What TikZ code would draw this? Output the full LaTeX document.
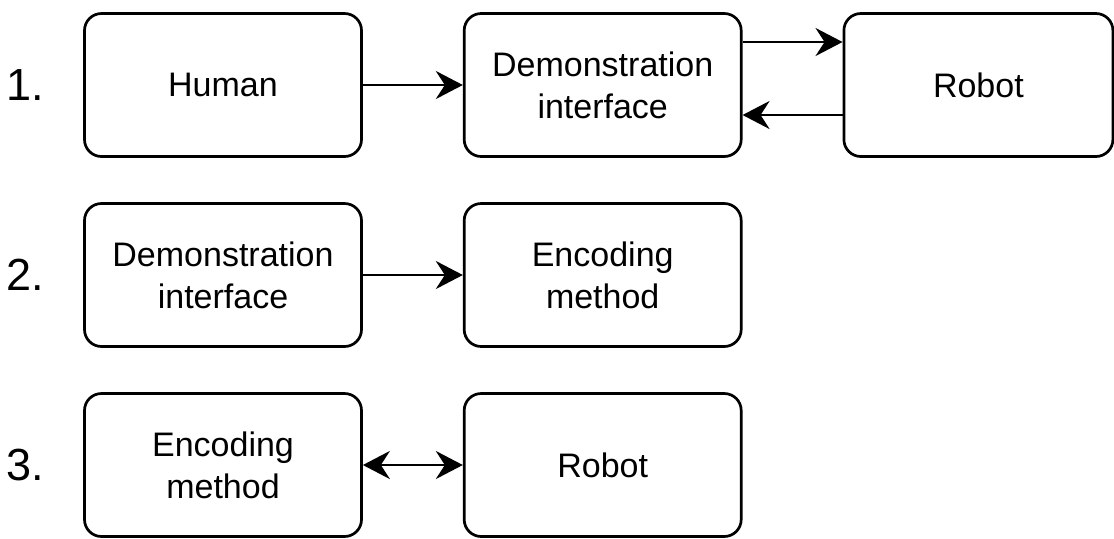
\documentclass[tikz,border=0pt]{standalone}
\usepackage{fontspec}
\setmainfont{Liberation Sans}
\usetikzlibrary{positioning,arrows.meta}

\begin{document}
\begin{tikzpicture}[>={Stealth[length=13.5pt,width=14pt,inset=4.5pt]},
  stagebox/.style={draw,line width=1.35pt,rounded corners=8.5pt,
    minimum width=138.5pt,minimum height=71.5pt,inner sep=0pt,
    align=center,font=\fontsize{17}{21}\selectfont},
  stagenum/.style={inner sep=0pt,font=\fontsize{22.5}{26}\selectfont},
  link/.style={line width=1.35pt,->},
  node distance=22.15pt and 50pt]
\useasboundingbox (0,0) rectangle (557pt,-269pt);
% 1. human demonstrates through the interface
\node[stagebox] (human) at (111.5pt,-42.5pt) {Human};
\node[stagebox,right=of human] (demoA) {Demonstration\\interface};
\node[stagebox,right=of demoA,minimum width=134.5pt] (robotA) {Robot};
% 2. demonstrations get encoded
\node[stagebox,below=of human] (demoB) {Demonstration\\interface};
\node[stagebox,right=of demoB] (encB) {Encoding\\method};
% 3. encoding runs on the robot
\node[stagebox,below=of demoB] (encC) {Encoding\\method};
\node[stagebox,right=of encC] (robotC) {Robot};
% row numbers
\node[stagenum,left=19.5pt of human] (numA) {1.};
\node[stagenum,left=19.5pt of demoB] (numB) {2.};
\node[stagenum,left=19.5pt of encC] (numC) {3.};
\draw[link] (human) -- (demoA);
\draw[link] ([yshift=21.5pt]demoA.east) -- ([yshift=21.5pt]robotA.west);
\draw[link] ([yshift=-15pt]robotA.west) -- ([yshift=-15pt]demoA.east);
\draw[link] (demoB) -- (encB);
\draw[link,<->] (encC) -- (robotC);
\end{tikzpicture}
\end{document}
